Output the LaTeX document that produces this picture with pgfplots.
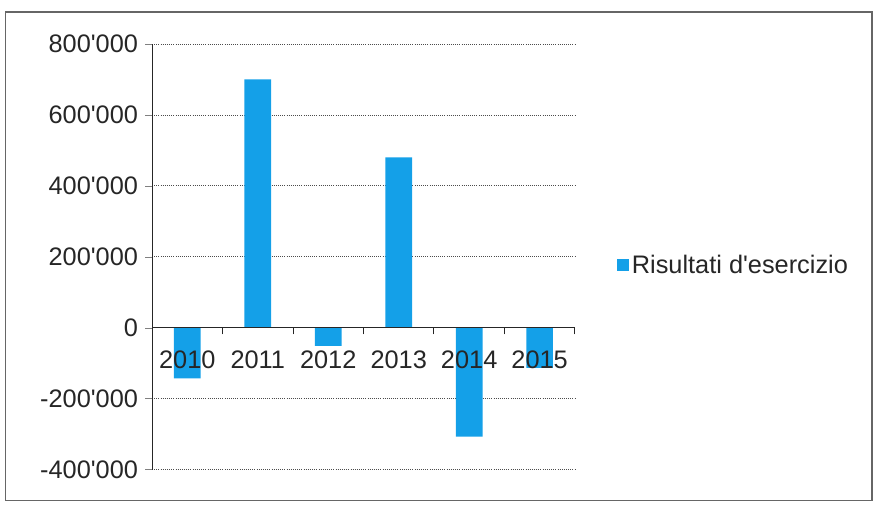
\documentclass[border=0pt]{standalone}
\usepackage{pgfplots}
\pgfplotsset{compat=1.18}
\usepackage{fontspec}
\setmainfont{Liberation Sans}
\definecolor{bluebar}{RGB}{20,160,232}
\newcommand{\q}{\textquotesingle}
\begin{document}
\begin{tikzpicture}
\begin{axis}[name=ax, axis on top,
  scale only axis, width=317pt, height=319pt,
  xmin=-0.5, xmax=5.5, ymin=-400000, ymax=800000,
  axis x line=middle, axis y line=left,
  axis line style={-, black!85, line width=0.7pt},
  xtick={0,1,2,3,4,5},
  xticklabels={2010,2011,2012,2013,2014,2015},
  minor xtick={-0.5,0.5,1.5,2.5,3.5,4.5,5.5},
  major x tick style={draw=none},
  minor x tick style={black!85, line width=0.7pt},
  tick align=outside,
  minor tick length=5pt, major tick length=5pt,
  ytick={-400000,-200000,0,200000,400000,600000,800000},
  yticklabels={{-400\q000},{-200\q000},{0},{200\q000},{400\q000},{600\q000},{800\q000}},
  scaled y ticks=false,
  ticklabel style={font=\fontsize{19}{22}\selectfont, text=black!85},
  xticklabel style={yshift=-9pt},
  yticklabel style={xshift=-2pt},
  legend style={draw=none, at={(1.09,0.48)}, anchor=west, font=\fontsize{19}{22}\selectfont, text=black!85},
  legend image code/.code={\fill[bluebar] (0pt,-4.5pt) rectangle (9pt,4.5pt);},
  clip=false
]
\pgfplotsinvokeforeach{-400000,-200000,200000,400000,600000,800000}{
  \addplot[black!70, line width=0.6pt, densely dotted, forget plot] coordinates {(-0.5,#1) (5.5,#1)};
}
\addplot[ybar, bar width=20pt, fill=bluebar, draw=none, bar shift=0pt]
  coordinates {(0,-143000) (1,700000) (2,-51000) (3,480000) (4,-307000) (5,-113000)};
\addlegendentry{Risultati d\q esercizio}
\end{axis}
\useasboundingbox ([shift={(-114pt,-27.75pt)}]ax.south west) rectangle ([shift={(226.5pt,33pt)}]ax.north east);
\draw[black!60, line width=0.8pt] ([shift={(-110pt,-23.25pt)}]ax.south west) rectangle ([shift={(222.75pt,24pt)}]ax.north east);
\end{tikzpicture}
\end{document}
